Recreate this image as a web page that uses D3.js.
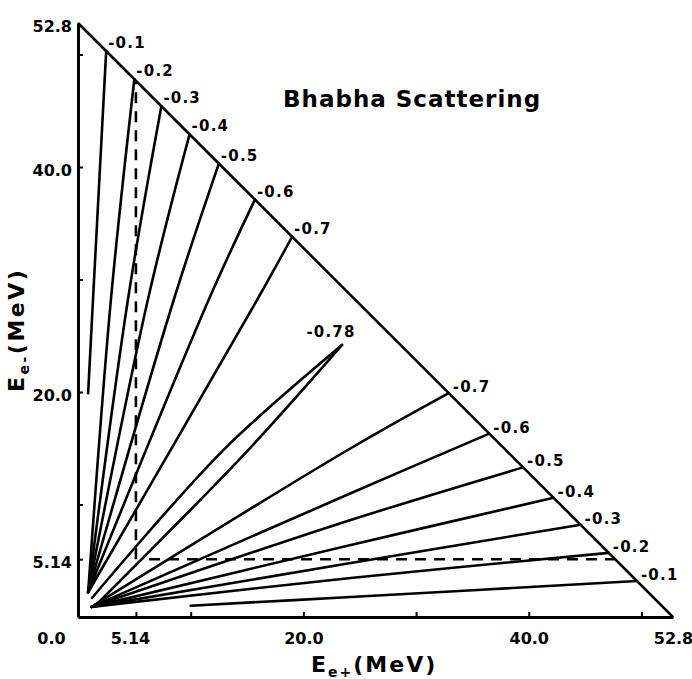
<!DOCTYPE html>
<html>
<head>
<meta charset="utf-8">
<title>Bhabha Scattering</title>
<script src="https://d3js.org/d3.v7.min.js"></script>
<style>
  body { margin: 0; background: #fff; }
  svg text { font-family: "DejaVu Sans", sans-serif; font-weight: bold; fill: #000; }
</style>
</head>
<body>
<svg id="chart" width="692" height="679"></svg>
<script>
// kinematic limit (MeV)
var EMAX = 52.8;

var levels = ["-0.1", "-0.2", "-0.3", "-0.4", "-0.5", "-0.6", "-0.7"];

// contours with E- > E+ : points [E+, E-] in MeV, from near origin up to the edge
var upperLines = [
  [[0.9, 19.9], [1.33, 28.2], [2.5, 50.3]],
  [[0.9, 2.2], [2.92, 28.2], [5.0, 47.8]],
  [[0.9, 2.2], [4.43, 28.2], [7.4, 45.4]],
  [[0.9, 2.2], [6.2, 28.2], [9.9, 42.9]],
  [[0.9, 2.2], [8.5, 28.2], [12.5, 40.3]],
  [[0.9, 2.2], [11.6, 28.2], [15.7, 37.1]],
  [[0.9, 2.2], [15.9, 28.2], [19.0, 33.8]]
];

// contours with E+ > E-
var lowerLines = [
  [[10.0, 1.0], [24.2, 1.78], [49.6, 3.2]],
  [[1.2, 0.9], [24.2, 3.47], [47.1, 5.7]],
  [[1.2, 0.9], [24.2, 4.8], [44.6, 8.2]],
  [[1.2, 0.9], [24.2, 6.4], [42.2, 10.6]],
  [[1.2, 0.9], [24.2, 8.62], [39.5, 13.3]],
  [[1.2, 0.9], [24.2, 11.0], [36.5, 16.3]],
  [[1.2, 0.9], [24.2, 15.0], [32.9, 19.9]]
];

// closed -0.78 contour: one side up to the tip, then back down the other
var innerLabel = "-0.78";
var innerLoop = [
  [1.24, 1.69], [12.9, 14.84],
  [23.43, 24.18],
  [15.1, 14.84], [1.6, 1.07]
];
var tipIndex = 2;

// energy cuts at 5.14 MeV
var cutLines = [
  [[5.14, 5.14], [5.14, 47.66]],
  [[6.3, 5.14], [47.66, 5.14]]
];

var xLabelTicks = [0, 5.14, 20, 40, 52.8];
var yLabelTicks = [5.14, 20, 40, 52.8];
var minorTicks = [5.14, 10, 20, 30, 40, 50];

var svg = d3.select("#chart");

var x = d3.scaleLinear().domain([0, EMAX]).range([78, 673]);
var y = d3.scaleLinear().domain([0, EMAX]).range([617, 23]);

var line = d3.line().x(function(d) { return x(d[0]); }).y(function(d) { return y(d[1]); });
var smooth = d3.line().x(function(d) { return x(d[0]); }).y(function(d) { return y(d[1]); })
  .curve(d3.curveCatmullRom);

function tickText(d) { return d === 5.14 ? "5.14" : d.toFixed(1); }

// x axis
var gx = svg.append("g")
  .attr("transform", "translate(0," + y(0) + ")")
  .call(d3.axisBottom(x)
    .tickValues(Array.from(new Set(xLabelTicks.concat(minorTicks))).sort(d3.ascending))
    .tickSize(-5).tickSizeOuter(0).tickPadding(16)
    .tickFormat(function(d) { return xLabelTicks.indexOf(d) >= 0 ? tickText(d) : ""; }));

// y axis
var gy = svg.append("g")
  .attr("transform", "translate(" + x(0) + ",0)")
  .call(d3.axisLeft(y)
    .tickValues(Array.from(new Set(yLabelTicks.concat(minorTicks))).sort(d3.ascending))
    .tickSize(-5).tickSizeOuter(0).tickPadding(6)
    .tickFormat(function(d) { return yLabelTicks.indexOf(d) >= 0 ? tickText(d) : ""; }));

[gx, gy].forEach(function(g) {
  g.attr("font-family", null).attr("font-size", 16);
  g.select(".domain").attr("stroke", "#000").attr("stroke-width", 3);
  g.selectAll(".tick line")
    .attr("stroke-width", 2)
    .filter(function(d) { return minorTicks.indexOf(d) < 0; }).remove();
});
gx.selectAll(".tick text").attr("dx", function(d) { return d === 0 ? -27 : d === 5.14 ? -6 : 0; });
gy.selectAll(".tick text").attr("y", 3);

// kinematic edge E+ + E- = EMAX
svg.append("path")
  .attr("d", line([[0, EMAX], [EMAX, 0]]))
  .attr("fill", "none").attr("stroke", "#000").attr("stroke-width", 2.6);

// contours
var curves = svg.append("g").attr("fill", "none").attr("stroke", "#000").attr("stroke-width", 2.6)
  .attr("stroke-linejoin", "round").attr("stroke-linecap", "round");

curves.selectAll(".up").data(upperLines).join("path").attr("class", "up").attr("d", smooth);
curves.selectAll(".low").data(lowerLines).join("path").attr("class", "low").attr("d", smooth);
// the loop: two smooth sides meeting in a point at the tip
curves.selectAll(".loop")
  .data([innerLoop.slice(0, tipIndex + 1), innerLoop.slice(tipIndex)])
  .join("path").attr("class", "loop").attr("d", smooth);

svg.append("g").attr("fill", "none").attr("stroke", "#000").attr("stroke-width", 2.6)
  .attr("stroke-dasharray", "11,8")
  .selectAll("path").data(cutLines).join("path").attr("d", line);

// contour labels
svg.append("g").attr("font-size", 15).attr("letter-spacing", 1.2)
  .selectAll("text").data(upperLines).join("text")
  .attr("x", function(d) { return x(d[d.length - 1][0]) + 2; })
  .attr("y", function(d) { return y(d[d.length - 1][1]) - 3; })
  .text(function(d, i) { return levels[i]; });

svg.append("g").attr("font-size", 15).attr("letter-spacing", 1.2)
  .selectAll("text").data(lowerLines).join("text")
  .attr("x", function(d) { return x(d[d.length - 1][0]) + 4; })
  .attr("y", function(d) { return y(d[d.length - 1][1]) - 1; })
  .text(function(d, i) { return levels[i]; });

var tip = innerLoop[tipIndex];
svg.append("text").attr("font-size", 15).attr("letter-spacing", 1.2)
  .attr("x", x(tip[0]) - 11).attr("y", y(tip[1]) - 8)
  .attr("text-anchor", "middle").text(innerLabel);

// title
svg.append("text").attr("x", 283).attr("y", 107).attr("font-size", 23)
  .attr("letter-spacing", 1).text("Bhabha Scattering");

// axis titles
var xt = svg.append("text").attr("x", 311).attr("y", 672).attr("font-size", 22)
  .attr("letter-spacing", 2);
xt.append("tspan").text("E");
xt.append("tspan").attr("font-size", 14).attr("dy", 5).text("e+");
xt.append("tspan").attr("dy", -5).text("(MeV)");

var yt = svg.append("text").attr("transform", "translate(24,392) rotate(-90)").attr("font-size", 22)
  .attr("letter-spacing", 2.5);
yt.append("tspan").text("E");
yt.append("tspan").attr("font-size", 14).attr("dy", 5).text("e-");
yt.append("tspan").attr("dy", -5).text("(MeV)");
</script>
</body>
</html>
